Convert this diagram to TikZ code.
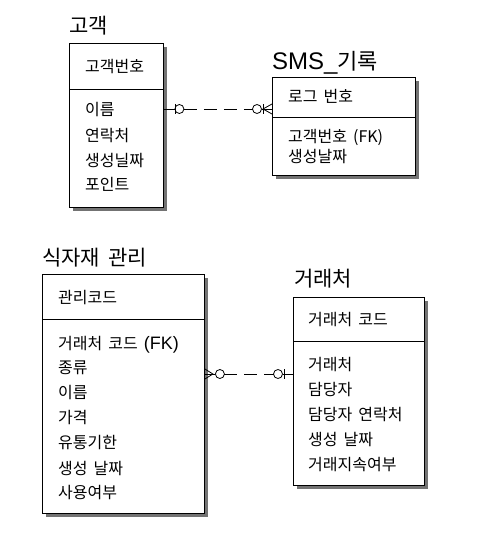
\documentclass[tikz,border=0pt]{standalone}
\usepackage{fontspec}
\setmainfont{Noto Sans CJK KR}[WordSpace=1.7]
\newfontfamily\arial{Liberation Sans}
\usetikzlibrary{positioning, calc, shadows}

\tikzstyle{entity} = [draw, fill=white, line width=0.9pt, anchor=north west,
  inner sep=0pt, drop shadow={shadow xshift=4pt, shadow yshift=-4pt,
  fill=black!55, opacity=1}]
\tikzstyle{title} = [anchor=base west, inner sep=0pt,
  font=\fontsize{21}{21}\selectfont]
\tikzstyle{attr} = [anchor=base west, inner sep=0pt,
  font=\fontsize{16}{16}\selectfont]
\tikzstyle{rel} = [line width=0.8pt]
\tikzstyle{dashes} = [dash pattern=on 13pt off 7pt]

\begin{document}
\begin{tikzpicture}[x=1pt, y=-1pt]
  \useasboundingbox (0,0) rectangle (477,545);

  % 고객
  \node[entity, minimum width=94pt, minimum height=164pt] (cust) at (69,43) {};
  \draw[rel] ($(cust.north west)+(0,46)$) -- ($(cust.north east)+(0,46)$);
  \node[title] (t-cust) at (69,34) {고객};
  \node[attr] (cust-key) at (85,73) {고객번호};
  \node[attr] (cust-a1) at (85,116) {이름};
  \node[attr] (cust-a2) at (85,142) {연락처};
  \node[attr] (cust-a3) at (85,167) {생성닐짜};
  \node[attr] (cust-a4) at (85,191) {포인트};

  % SMS_기록
  \node[entity, minimum width=143pt, minimum height=98pt] (sms) at (272,77) {};
  \draw[rel] ($(sms.north west)+(0,40)$) -- ($(sms.north east)+(0,40)$);
  \node[title] (t-sms) at (272,70) {{\arial\fontsize{24}{24}\selectfont SMS\_}{\fontsize{22}{22}\selectfont 기록}};
  \node[attr] (sms-key) at (288,103) {로그 번호};
  \node[attr] (sms-a1) at (288,143) {고객번호 (FK)};
  \node[attr] (sms-a2) at (288,163) {생성날짜};

  % 식자재 관리
  \node[entity, minimum width=162pt, minimum height=239pt] (food) at (42,274) {};
  \draw[rel] ($(food.north west)+(0,45)$) -- ($(food.north east)+(0,45)$);
  \node[title] (t-food) at (42,265) {식자재 관리};
  \node[attr] (food-key) at (58,303) {관리코드};
  \node[attr] (food-a1) at (58,349) {거래처 코드 {\arial\fontsize{18}{18}\selectfont (FK)}};
  \node[attr] (food-a2) at (58,373) {종류};
  \node[attr] (food-a3) at (58,398) {이름};
  \node[attr] (food-a4) at (58,423) {가격};
  \node[attr] (food-a5) at (58,448) {유통기한};
  \node[attr] (food-a6) at (58,474) {생성 날짜};
  \node[attr] (food-a7) at (58,498) {사용여부};

  % 거래처
  \node[entity, minimum width=131pt, minimum height=188pt] (vend) at (293,297) {};
  \draw[rel] ($(vend.north west)+(0,44)$) -- ($(vend.north east)+(0,44)$);
  \node[title] (t-vend) at (294,286) {거래처};
  \node[attr] (vend-key) at (308,325) {거래처 코드};
  \node[attr] (vend-a1) at (308,370) {거래처};
  \node[attr] (vend-a2) at (308,395) {담당자};
  \node[attr] (vend-a3) at (308,420) {담당자 연락처};
  \node[attr] (vend-a4) at (308,445) {생성 날짜};
  \node[attr] (vend-a5) at (308,470) {거래지속여부};

  % 고객 -- SMS_기록
  \coordinate (r1a) at ($(cust.north east)+(0,66)$);
  \coordinate (r1b) at (sms.west |- r1a);
  \draw[rel] (r1a) -- ++(11,0) ++(0,-5) -- ++(0,10);
  \draw[rel] (r1a) ++(15.5,0) circle[radius=4.5pt];
  \draw[rel, dashes] ($(r1a)+(20,0)$) -- ($(r1b)+(-19.5,0)$);
  \draw[rel] (r1b) ++(-15,0) circle[radius=4.5pt];
  \draw[rel] (r1b) ++(-9,-5) -- ++(0,10);
  \draw[rel] (r1b) ++(-10.5,0) -- (r1b);
  \draw[rel] (r1b) ++(0,-5) -- ++(-9,5) -- ++(9,5);

  % 식자재 관리 -- 거래처
  \coordinate (r2a) at ($(food.north east)+(0,100)$);
  \coordinate (r2b) at (vend.west |- r2a);
  \draw[rel] (r2a) ++(0,-5) -- ++(8,5) -- ++(-8,5);
  \draw[rel] (r2a) -- ++(10.5,0);
  \draw[rel] (r2a) ++(15,0) circle[radius=4.5pt];
  \draw[rel, dashes] ($(r2a)+(19.5,0)$) -- ($(r2b)+(-19.5,0)$);
  \draw[rel] (r2b) ++(-15,0) circle[radius=4.5pt];
  \draw[rel] (r2b) ++(-9,-5) -- ++(0,10);
  \draw[rel] (r2b) ++(-10.5,0) -- (r2b);
\end{tikzpicture}
\end{document}
